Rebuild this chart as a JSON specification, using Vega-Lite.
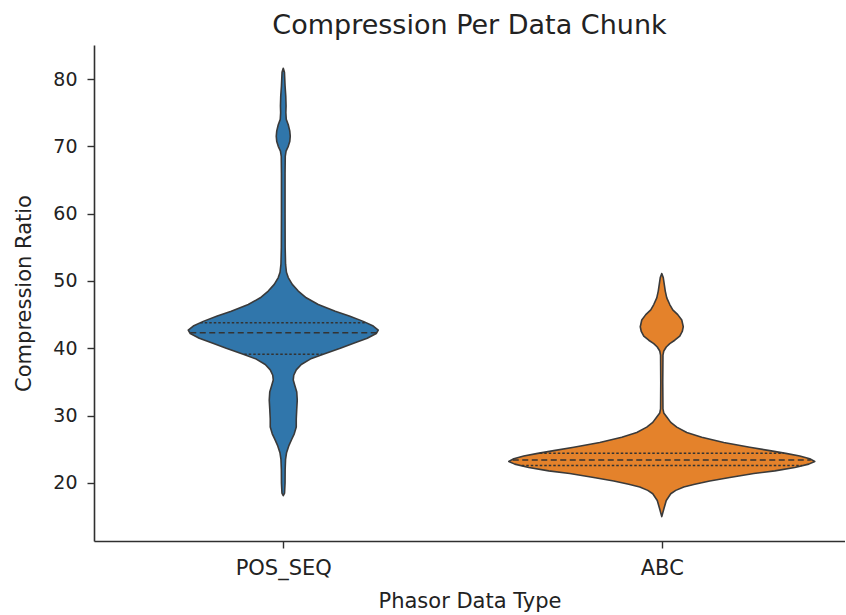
{
  "$schema": "https://vega.github.io/schema/vega-lite/v6.json",
  "autosize": {"type": "none"},
  "width": 751,
  "height": 496,
  "padding": {"left": 94, "top": 45, "right": 0, "bottom": 74},
  "background": "white",
  "config": {
    "font": "DejaVu Sans",
    "view": {"stroke": null},
    "axis": {
      "grid": false,
      "domainColor": "#303030",
      "domainWidth": 1.6,
      "tickColor": "#303030",
      "tickWidth": 1.4,
      "tickSize": 7,
      "labelColor": "#222222",
      "titleColor": "#222222",
      "labelFont": "DejaVu Sans",
      "titleFont": "DejaVu Sans",
      "titleFontWeight": "normal"
    }
  },
  "title": {
    "text": "Compression Per Data Chunk",
    "fontSize": 27,
    "fontWeight": "normal",
    "color": "#222222",
    "font": "DejaVu Sans",
    "anchor": "middle",
    "offset": 5
  },
  "datasets": {
    "violin": [
      {"type": "POS_SEQ", "ratio": 81.6, "density": 0},
      {"type": "POS_SEQ", "ratio": 81.0, "density": 1.2},
      {"type": "POS_SEQ", "ratio": 79.0, "density": 1.8},
      {"type": "POS_SEQ", "ratio": 77.5, "density": 2.5},
      {"type": "POS_SEQ", "ratio": 76.0, "density": 2.8},
      {"type": "POS_SEQ", "ratio": 75.0, "density": 2.6},
      {"type": "POS_SEQ", "ratio": 74.0, "density": 3},
      {"type": "POS_SEQ", "ratio": 73.2, "density": 5},
      {"type": "POS_SEQ", "ratio": 72.3, "density": 6.5},
      {"type": "POS_SEQ", "ratio": 71.5, "density": 7},
      {"type": "POS_SEQ", "ratio": 70.7, "density": 6.5},
      {"type": "POS_SEQ", "ratio": 70.0, "density": 5},
      {"type": "POS_SEQ", "ratio": 69.3, "density": 2.8},
      {"type": "POS_SEQ", "ratio": 68.5, "density": 2},
      {"type": "POS_SEQ", "ratio": 66.0, "density": 1.8},
      {"type": "POS_SEQ", "ratio": 60.0, "density": 1.8},
      {"type": "POS_SEQ", "ratio": 55.0, "density": 1.9},
      {"type": "POS_SEQ", "ratio": 52.5, "density": 2.3},
      {"type": "POS_SEQ", "ratio": 51.3, "density": 3.2},
      {"type": "POS_SEQ", "ratio": 50.5, "density": 5},
      {"type": "POS_SEQ", "ratio": 49.5, "density": 9},
      {"type": "POS_SEQ", "ratio": 48.5, "density": 15},
      {"type": "POS_SEQ", "ratio": 47.5, "density": 23},
      {"type": "POS_SEQ", "ratio": 46.5, "density": 35},
      {"type": "POS_SEQ", "ratio": 45.5, "density": 52},
      {"type": "POS_SEQ", "ratio": 44.8, "density": 66},
      {"type": "POS_SEQ", "ratio": 44.0, "density": 80},
      {"type": "POS_SEQ", "ratio": 43.3, "density": 90},
      {"type": "POS_SEQ", "ratio": 42.7, "density": 95},
      {"type": "POS_SEQ", "ratio": 42.2, "density": 93},
      {"type": "POS_SEQ", "ratio": 41.5, "density": 84},
      {"type": "POS_SEQ", "ratio": 40.8, "density": 71},
      {"type": "POS_SEQ", "ratio": 40.0, "density": 57},
      {"type": "POS_SEQ", "ratio": 39.1, "density": 40},
      {"type": "POS_SEQ", "ratio": 38.4, "density": 27},
      {"type": "POS_SEQ", "ratio": 37.6, "density": 18},
      {"type": "POS_SEQ", "ratio": 36.8, "density": 13},
      {"type": "POS_SEQ", "ratio": 36.0, "density": 10.5},
      {"type": "POS_SEQ", "ratio": 35.3, "density": 10},
      {"type": "POS_SEQ", "ratio": 34.5, "density": 11.5},
      {"type": "POS_SEQ", "ratio": 33.5, "density": 13.5},
      {"type": "POS_SEQ", "ratio": 32.3, "density": 14},
      {"type": "POS_SEQ", "ratio": 31.0, "density": 13.5},
      {"type": "POS_SEQ", "ratio": 29.5, "density": 13},
      {"type": "POS_SEQ", "ratio": 28.3, "density": 13},
      {"type": "POS_SEQ", "ratio": 27.3, "density": 11},
      {"type": "POS_SEQ", "ratio": 26.5, "density": 8.5},
      {"type": "POS_SEQ", "ratio": 25.5, "density": 5.5},
      {"type": "POS_SEQ", "ratio": 24.5, "density": 3.3},
      {"type": "POS_SEQ", "ratio": 23.5, "density": 2.3},
      {"type": "POS_SEQ", "ratio": 22.0, "density": 1.9},
      {"type": "POS_SEQ", "ratio": 20.0, "density": 1.8},
      {"type": "POS_SEQ", "ratio": 18.5, "density": 1.3},
      {"type": "POS_SEQ", "ratio": 18.1, "density": 0},
      {"type": "ABC", "ratio": 51.1, "density": 0},
      {"type": "ABC", "ratio": 50.5, "density": 1.5},
      {"type": "ABC", "ratio": 49.5, "density": 2.5},
      {"type": "ABC", "ratio": 48.5, "density": 3.5},
      {"type": "ABC", "ratio": 47.5, "density": 5},
      {"type": "ABC", "ratio": 46.5, "density": 8},
      {"type": "ABC", "ratio": 45.7, "density": 11},
      {"type": "ABC", "ratio": 45.0, "density": 16},
      {"type": "ABC", "ratio": 44.2, "density": 20},
      {"type": "ABC", "ratio": 43.2, "density": 21.5},
      {"type": "ABC", "ratio": 42.5, "density": 20.5},
      {"type": "ABC", "ratio": 41.8, "density": 18},
      {"type": "ABC", "ratio": 41.2, "density": 13},
      {"type": "ABC", "ratio": 40.7, "density": 8},
      {"type": "ABC", "ratio": 40.2, "density": 4.5},
      {"type": "ABC", "ratio": 39.6, "density": 2},
      {"type": "ABC", "ratio": 39.0, "density": 1.2},
      {"type": "ABC", "ratio": 35.0, "density": 1},
      {"type": "ABC", "ratio": 31.0, "density": 1.2},
      {"type": "ABC", "ratio": 30.4, "density": 2},
      {"type": "ABC", "ratio": 29.8, "density": 5},
      {"type": "ABC", "ratio": 29.0, "density": 9},
      {"type": "ABC", "ratio": 28.3, "density": 15},
      {"type": "ABC", "ratio": 27.5, "density": 25},
      {"type": "ABC", "ratio": 26.8, "density": 40},
      {"type": "ABC", "ratio": 26.0, "density": 62},
      {"type": "ABC", "ratio": 25.3, "density": 88},
      {"type": "ABC", "ratio": 24.8, "density": 108},
      {"type": "ABC", "ratio": 24.4, "density": 124},
      {"type": "ABC", "ratio": 24.0, "density": 138},
      {"type": "ABC", "ratio": 23.6, "density": 148},
      {"type": "ABC", "ratio": 23.2, "density": 153},
      {"type": "ABC", "ratio": 22.8, "density": 147},
      {"type": "ABC", "ratio": 22.3, "density": 133},
      {"type": "ABC", "ratio": 21.8, "density": 113},
      {"type": "ABC", "ratio": 21.4, "density": 92},
      {"type": "ABC", "ratio": 20.8, "density": 68},
      {"type": "ABC", "ratio": 20.3, "density": 48},
      {"type": "ABC", "ratio": 19.8, "density": 33},
      {"type": "ABC", "ratio": 19.4, "density": 22},
      {"type": "ABC", "ratio": 18.9, "density": 14},
      {"type": "ABC", "ratio": 18.4, "density": 9},
      {"type": "ABC", "ratio": 17.4, "density": 4.5},
      {"type": "ABC", "ratio": 16.2, "density": 2.2},
      {"type": "ABC", "ratio": 15.0, "density": 0}
    ],
    "quartiles": [
      {"type": "POS_SEQ", "stat": "q3", "ratio": 43.8, "density": 83},
      {"type": "POS_SEQ", "stat": "median", "ratio": 42.3, "density": 93},
      {"type": "POS_SEQ", "stat": "q1", "ratio": 39.1, "density": 39},
      {"type": "ABC", "stat": "q3", "ratio": 24.4, "density": 122},
      {"type": "ABC", "stat": "median", "ratio": 23.4, "density": 149},
      {"type": "ABC", "stat": "q1", "ratio": 22.6, "density": 140}
    ]
  },
  "layer": [
    {
      "data": {"name": "violin"},
      "transform": [
        {"calculate": "datum.type === 'POS_SEQ' ? 0 : 1", "as": "center"},
        {"calculate": "datum.center - datum.density / 378.5", "as": "lo"},
        {"calculate": "datum.center + datum.density / 378.5", "as": "hi"}
      ],
      "mark": {"type": "area", "orient": "horizontal", "stroke": "#3a3a3a", "strokeWidth": 1.6, "strokeJoin": "round", "opacity": 1},
      "encoding": {
        "y": {"field": "ratio", "type": "quantitative", "scale": {"domain": [11.38, 85.05], "nice": false, "zero": false},
          "axis": {"title": "Compression Ratio", "values": [20, 30, 40, 50, 60, 70, 80], "labelFontSize": 19, "titleFontSize": 21, "labelPadding": 10, "titlePadding": 18}},
        "x": {"field": "lo", "type": "quantitative", "stack": null, "scale": {"domain": [-0.5, 1.4841], "nice": false, "zero": false},
          "axis": {"title": "Phasor Data Type", "values": [0, 1], "labelExpr": "datum.value === 0 ? 'POS_SEQ' : 'ABC'", "labelFontSize": 21, "titleFontSize": 21, "labelPadding": 9, "titlePadding": 12}},
        "x2": {"field": "hi"},
        "color": {"field": "type", "type": "nominal", "scale": {"domain": ["POS_SEQ", "ABC"], "range": ["#3076ab", "#e4822b"]}, "legend": null}
      }
    },
    {
      "data": {"name": "quartiles"},
      "transform": [
        {"filter": "datum.stat !== 'median'"},
        {"calculate": "datum.type === 'POS_SEQ' ? 0 : 1", "as": "center"},
        {"calculate": "datum.center - datum.density / 378.5", "as": "lo"},
        {"calculate": "datum.center + datum.density / 378.5", "as": "hi"}
      ],
      "mark": {"type": "rule", "color": "#333333", "strokeWidth": 1.5, "strokeDash": [2.5, 2]},
      "encoding": {
        "y": {"field": "ratio", "type": "quantitative"},
        "x": {"field": "lo", "type": "quantitative"},
        "x2": {"field": "hi"}
      }
    },
    {
      "data": {"name": "quartiles"},
      "transform": [
        {"filter": "datum.stat === 'median'"},
        {"calculate": "datum.type === 'POS_SEQ' ? 0 : 1", "as": "center"},
        {"calculate": "datum.center - datum.density / 378.5", "as": "lo"},
        {"calculate": "datum.center + datum.density / 378.5", "as": "hi"}
      ],
      "mark": {"type": "rule", "color": "#333333", "strokeWidth": 1.5, "strokeDash": [6, 3.5]},
      "encoding": {
        "y": {"field": "ratio", "type": "quantitative"},
        "x": {"field": "lo", "type": "quantitative"},
        "x2": {"field": "hi"}
      }
    },
    {
      "mark": {"type": "rule", "color": "#303030", "strokeWidth": 1.6},
      "encoding": {"y": {"datum": 85.05, "type": "quantitative"}}
    }
  ]
}
